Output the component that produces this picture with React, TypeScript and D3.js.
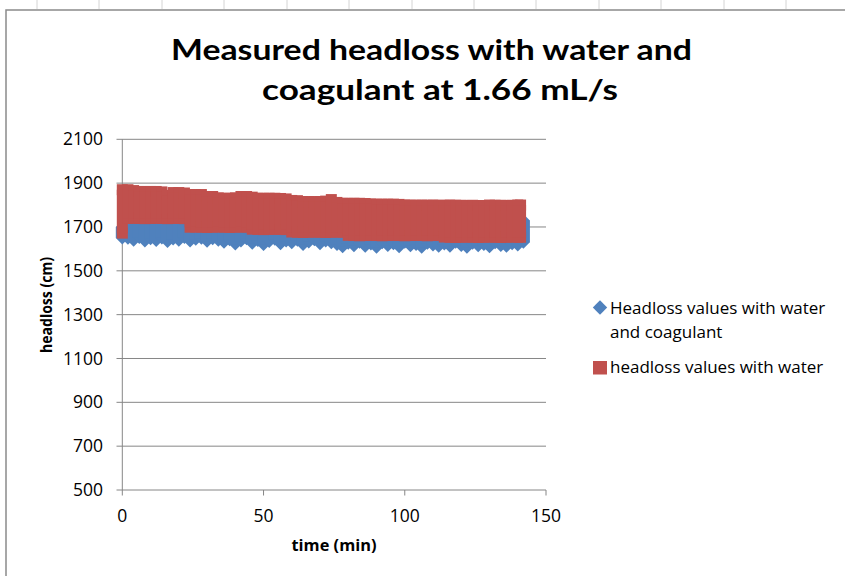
import React from "react";
import * as d3 from "d3";

// ---- Data ----
const redTime = [0,2,4,6,8,10,12,14,16,18,20,22,24,26,28,30,32,34,36,38,40,42,44,46,48,50,52,54,56,58,60,62,64,66,68,70,72,74,76,78,80,82,84,86,88,90,92,94,96,98,100,102,104,106,108,110,112,114,116,118,120,122,124,126,128,130,132,134,136,138,140,141];
const redHigh = [1870,1870,1866,1862,1862,1862,1862,1860,1844,1857,1857,1855,1848,1848,1848,1839,1839,1833,1831,1831,1833,1839,1839,1836,1831,1831,1831,1831,1830,1828,1821,1820,1816,1816,1816,1816,1818,1825,1812,1808,1808,1808,1808,1807,1805,1804,1804,1804,1804,1803,1800,1800,1799,1800,1799,1800,1799,1799,1800,1799,1799,1798,1799,1798,1798,1800,1799,1799,1798,1799,1800,1800];
const redLow = [1672,1739,1740,1739,1738,1739,1740,1739,1738,1739,1739,1738,1699,1700,1699,1698,1699,1700,1699,1698,1699,1700,1699,1690,1689,1688,1689,1690,1689,1688,1677,1676,1675,1676,1677,1676,1675,1676,1677,1676,1662,1661,1660,1661,1662,1661,1660,1661,1662,1661,1660,1661,1662,1661,1660,1661,1662,1654,1653,1652,1653,1654,1653,1652,1653,1654,1653,1652,1653,1654,1653,1653];

const blueTime = [0,2,4,6,8,10,12,14,16,18,20,22,24,26,28,30,32,34,36,38,40,42,44,46,48,50,52,54,56,58,60,62,64,66,68,70,72,74,76,78,80,82,84,86,88,90,92,94,96,98,100,102,104,106,108,110,112,114,116,118,120,122,124,126,128,130,132,134,136,138,140,142];
const blueLow = [1650,1648,1640,1652,1636,1646,1638,1650,1634,1645,1640,1652,1636,1644,1648,1635,1646,1640,1630,1642,1622,1636,1646,1626,1638,1620,1634,1644,1624,1636,1628,1640,1620,1632,1642,1624,1636,1628,1620,1610,1626,1614,1630,1612,1622,1608,1628,1616,1624,1610,1630,1614,1620,1608,1626,1618,1612,1622,1612,1630,1616,1608,1626,1614,1620,1610,1628,1616,1612,1624,1618,1630];
const blueHigh = [1700,1712,1720,1718,1720,1722,1718,1720,1719,1721,1720,1718,1720,1722,1719,1720,1718,1721,1720,1719,1722,1720,1718,1720,1721,1719,1720,1722,1718,1720,1719,1721,1720,1718,1720,1722,1719,1720,1721,1718,1720,1719,1722,1720,1718,1721,1720,1719,1720,1722,1718,1720,1721,1719,1720,1718,1722,1720,1719,1721,1720,1718,1720,1722,1719,1720,1721,1718,1720,1722,1725,1730];

const yTicks = [500,700,900,1100,1300,1500,1700,1900,2100];
const xTicks = [0,50,100,150];

const titleLines = ["Measured headloss with water and", "coagulant at 1.66 mL/s"];
const legendBlue = ["Headloss values with water", "and coagulant"];
const legendRed = "headloss values with water";

const BLUE = "#4F81BD";
const RED = "#C0504D";
const GRID = "#868686";
const FONT = "'Open Sans', 'DejaVu Sans', sans-serif";

export default function App() {
  const x = d3.scaleLinear().domain([0, 150]).range([122.3, 546]);
  const y = d3.scaleLinear().domain([500, 2100]).range([490, 139.3]);

  const redData = redTime.map((t, i) => ({ t, hi: redHigh[i], lo: redLow[i] }));
  const blueData = blueTime.map((t, i) => ({ t, hi: blueHigh[i], lo: blueLow[i] }));

  const area = d3
    .area<{ t: number; hi: number; lo: number }>()
    .x((d) => x(d.t))
    .y0((d) => y(d.lo))
    .y1((d) => y(d.hi))
    .curve(d3.curveStep);

  const sq = 11;
  const dm = 6.5;
  const diamond = (cx: number, cy: number, r: number) =>
    `M${cx},${cy - r}L${cx + r},${cy}L${cx},${cy + r}L${cx - r},${cy}Z`;

  const sheetLines = [37, 99, 162, 224, 287, 349, 412, 474, 536, 599, 661, 724, 786];

  return (
    <svg
      width={845}
      height={576}
      style={{ position: "absolute", left: 0, top: 0, background: "#fff" }}
      fontFamily={FONT}
    >
      <rect x={0} y={0} width={845} height={576} fill="#fff" />
      {sheetLines.map((sx) => (
        <line key={sx} x1={sx} x2={sx} y1={0} y2={9} stroke="#d4d4d4" strokeWidth={1} />
      ))}
      <rect x={6} y={10} width={900} height={620} fill="#fff" stroke="#8a8a8a" strokeWidth={1.5} />

      {/* Title */}
      <text x={431.5} y={59.5} textAnchor="middle" fontSize={28} fontWeight="bold" fontFamily="Lato, 'Open Sans', sans-serif" textLength={521} lengthAdjust="spacingAndGlyphs">
        {titleLines[0]}
      </text>
      <text x={440} y={100} textAnchor="middle" fontSize={28} fontWeight="bold" fontFamily="Lato, 'Open Sans', sans-serif" textLength={356} lengthAdjust="spacingAndGlyphs">
        {titleLines[1]}
      </text>

      {/* Gridlines */}
      {yTicks.map((v) => (
        <g key={v}>
          <line x1={116.5} x2={546} y1={y(v)} y2={y(v)} stroke={GRID} strokeWidth={1} />
          <text x={103} y={y(v)} dy="0.35em" textAnchor="end" fontSize={17.5} fill="#000">
            {v}
          </text>
        </g>
      ))}
      {/* Y axis */}
      <line x1={x(0)} x2={x(0)} y1={y(2100)} y2={y(500)} stroke={GRID} strokeWidth={1} />
      {/* X axis ticks */}
      {xTicks.map((v) => (
        <g key={v}>
          <line x1={x(v)} x2={x(v)} y1={y(500)} y2={y(500) + 5.5} stroke={GRID} strokeWidth={1} />
          <text x={x(v)} y={522} textAnchor="middle" fontSize={17.5} fill="#000">
            {v}
          </text>
        </g>
      ))}

      {/* Blue series */}
      <path d={area(blueData) || ""} fill={BLUE} />
      {blueData.map((d, i) => (
        <g key={"b" + i}>
          <path d={diamond(x(d.t), y(d.hi), dm)} fill={BLUE} />
          <path d={diamond(x(d.t), y(d.lo), dm)} fill={BLUE} />
          <rect x={x(d.t) - dm} y={y(d.hi)} width={dm * 2} height={y(d.lo) - y(d.hi)} fill={BLUE} />
        </g>
      ))}

      {/* Red series */}
      <path d={area(redData) || ""} fill={RED} />
      {redData.map((d, i) => (
        <g key={"r" + i}>
          <rect x={x(d.t) - sq / 2} y={y(d.hi) - sq / 2} width={sq} height={sq} fill={RED} />
          <rect x={x(d.t) - sq / 2} y={y(d.lo) - sq / 2} width={sq} height={sq} fill={RED} />
          <rect x={x(d.t) - sq / 2} y={y(d.hi)} width={sq} height={y(d.lo) - y(d.hi)} fill={RED} />
        </g>
      ))}

      {/* Axis titles */}
      <text x={334} y={551} textAnchor="middle" fontSize={15.5} fontWeight="bold" textLength={85} lengthAdjust="spacingAndGlyphs">
        time (min)
      </text>
      <text
        transform="translate(52,305) rotate(-90)"
        textAnchor="middle"
        fontSize={15.5}
        fontWeight="bold"
        textLength={96}
        lengthAdjust="spacingAndGlyphs"
      >
        headloss (cm)
      </text>

      {/* Legend */}
      <path d={diamond(600, 307.5, 7.2)} fill={BLUE} />
      <text x={610} y={313.5} fontSize={17} fill="#000">{legendBlue[0]}</text>
      <text x={610} y={338} fontSize={17} fill="#000">{legendBlue[1]}</text>
      <rect x={593} y={361} width={14} height={13.5} fill={RED} />
      <text x={610} y={373} fontSize={17} fill="#000">{legendRed}</text>
    </svg>
  );
}
